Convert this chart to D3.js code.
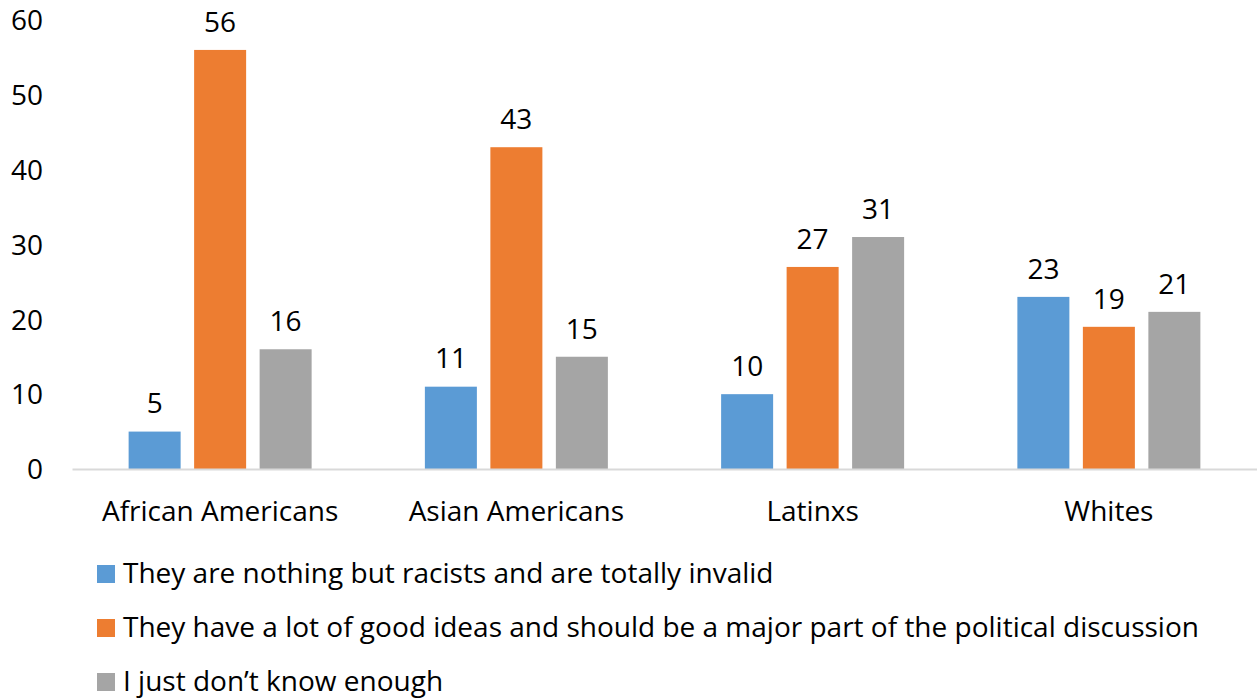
<!DOCTYPE html>
<html>
<head>
<meta charset="utf-8">
<script src="https://cdn.jsdelivr.net/npm/d3@7"></script>
<style>
  html, body { margin: 0; padding: 0; background: #fff; }
  svg text { font-family: "Open Sans", sans-serif; fill: #000; }
</style>
</head>
<body>
<svg id="chart" width="1257" height="700"></svg>
<script>
const categories = ["African Americans", "Asian Americans", "Latinxs", "Whites"];
const seriesNames = [
  "They are nothing but racists and are totally invalid",
  "They have a lot of good ideas and should be a major part of the political discussion",
  "I just don\u2019t know enough"
];
const racistsInvalid = [5, 11, 10, 23];
const goodIdeas = [56, 43, 27, 19];
const dontKnow = [16, 15, 31, 21];
const yTicks = [0, 10, 20, 30, 40, 50, 60];
const colors = ["#5B9BD5", "#ED7D31", "#A5A5A5"];

const FS = "28px";
const seriesValues = [racistsInvalid, goodIdeas, dontKnow];
const svg = d3.select("#chart");

const x0 = d3.scaleBand().domain(categories).range([72, 1257]).padding(0);
const x1 = d3.scaleBand().domain(d3.range(seriesNames.length)).range([-91.5, 91.5]).paddingInner(0.206).paddingOuter(0);
const y = d3.scaleLinear().domain([0, 60]).range([469, 20]);

// y tick labels
const yAxis = d3.axisLeft(y).tickValues(yTicks).tickSize(0).tickPadding(0);
const gy = svg.append("g").attr("transform", "translate(43,0)").call(yAxis);
gy.select(".domain").remove();
gy.selectAll("text").style("font-size", FS).attr("dy", "0.35em").attr("font-family", null).attr("fill", "#000");

// bars
const groups = svg.append("g").selectAll("g")
  .data(categories)
  .join("g")
  .attr("transform", d => `translate(${x0(d) + x0.bandwidth() / 2},0)`);

groups.selectAll("rect")
  .data((d, i) => seriesValues.map((vals, s) => ({ s, v: vals[i] })))
  .join("rect")
  .attr("x", d => x1(d.s))
  .attr("width", x1.bandwidth())
  .attr("y", d => y(d.v))
  .attr("height", d => y(0) - y(d.v))
  .attr("fill", d => colors[d.s]);

groups.selectAll("text.val")
  .data((d, i) => seriesValues.map((vals, s) => ({ s, v: vals[i] })))
  .join("text")
  .attr("class", "val")
  .attr("x", d => x1(d.s) + x1.bandwidth() / 2)
  .attr("y", d => y(d.v) - 28)
  .attr("dy", "0.35em")
  .attr("text-anchor", "middle")
  .style("font-size", FS)
  .text(d => d.v);

// x axis
const xAxis = d3.axisBottom(x0).tickSize(0).tickPadding(0);
const gx = svg.append("g").attr("transform", "translate(0,469)").call(xAxis);
gx.select(".domain").attr("stroke", "#D9D9D9").attr("stroke-width", 2);
gx.selectAll("text").style("font-size", FS).attr("y", 42).attr("dy", "0.35em").attr("font-family", null).attr("fill", "#000");

// legend
const legend = svg.append("g").selectAll("g")
  .data(seriesNames)
  .join("g")
  .attr("transform", (d, i) => `translate(97,${[583, 637, 691][i]})`);
legend.append("rect").attr("x", 0).attr("y", -18).attr("width", 18).attr("height", 18).attr("fill", (d, i) => colors[i]);
legend.append("text").attr("x", 26).style("font-size", FS).text(d => d);
</script>
</body>
</html>
